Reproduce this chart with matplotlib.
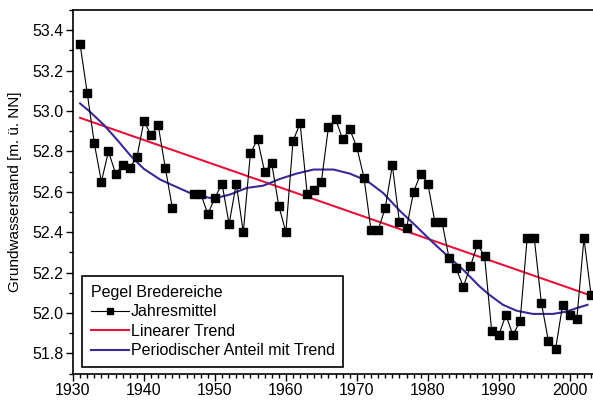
import numpy as np
import matplotlib.pyplot as plt
from matplotlib.ticker import MultipleLocator

plt.rcParams['font.family'] = ['Liberation Sans', 'DejaVu Sans']

# Jahresmittel (gap 1945-1946)
years = [1931, 1932, 1933, 1934, 1935, 1936, 1937, 1938, 1939, 1940, 1941, 1942, 1943, 1944,
         1947, 1948, 1949, 1950, 1951, 1952, 1953, 1954, 1955, 1956, 1957, 1958, 1959, 1960,
         1961, 1962, 1963, 1964, 1965, 1966, 1967, 1968, 1969, 1970, 1971, 1972, 1973, 1974,
         1975, 1976, 1977, 1978, 1979, 1980, 1981, 1982, 1983, 1984, 1985, 1986, 1987, 1988,
         1989, 1990, 1991, 1992, 1993, 1994, 1995, 1996, 1997, 1998, 1999, 2000, 2001, 2002, 2003]
levels = [53.33, 53.09, 52.84, 52.65, 52.80, 52.69, 52.73, 52.72, 52.77, 52.95, 52.88, 52.93, 52.72, 52.52,
          52.59, 52.59, 52.49, 52.57, 52.64, 52.44, 52.64, 52.40, 52.79, 52.86, 52.70, 52.74, 52.53, 52.40,
          52.85, 52.94, 52.59, 52.61, 52.65, 52.92, 52.96, 52.86, 52.91, 52.82, 52.67, 52.41, 52.41, 52.52,
          52.73, 52.45, 52.42, 52.60, 52.69, 52.64, 52.45, 52.45, 52.27, 52.22, 52.13, 52.23, 52.34, 52.28,
          51.91, 51.89, 51.99, 51.89, 51.96, 52.37, 52.37, 52.05, 51.86, 51.82, 52.04, 51.99, 51.97, 52.37, 52.09]

# Linearer Trend (end points)
trend_years = [1931, 2003]
trend_vals = [52.966, 52.086]

# Periodischer Anteil mit Trend
per_years = [1931, 1932.3, 1934.3, 1936.2, 1938.1, 1940, 1942.3, 1944.5, 1947, 1949.8, 1952.1,
             1954.5, 1956.8, 1959.2, 1961.5, 1963.9, 1966.7, 1969, 1971.4, 1973.7, 1976.1,
             1978.4, 1980.8, 1983, 1985, 1987.3, 1988.7, 1990.6, 1992.5, 1994.8, 1997.6,
             1999.5, 2000.9, 2002.5]
per_vals = [53.037, 52.999, 52.933, 52.858, 52.779, 52.713, 52.66, 52.625, 52.586, 52.566, 52.586,
            52.619, 52.630, 52.664, 52.690, 52.710, 52.71, 52.690, 52.655, 52.594, 52.504,
            52.428, 52.346, 52.275, 52.213, 52.131, 52.089, 52.04, 52.011, 51.995, 51.995,
            52.006, 52.023, 52.04]

fig = plt.figure(figsize=(5.93, 4.03), dpi=100)
ax = fig.add_axes([73 / 593, 1 - 373.5 / 403, 523 / 593, 363.5 / 403])

yr = np.array(years, dtype=float)
lv = np.array(levels)
# break the line at the missing years
yr_plot = np.insert(yr, 14, np.nan)
lv_plot = np.insert(lv, 14, np.nan)

ax.plot(yr_plot, lv_plot, color='black', lw=0.8, marker='s', markersize=5.5,
        label='Jahresmittel', clip_on=False, zorder=3)
ax.plot(trend_years, trend_vals, color='#e8123c', lw=1.5, label='Linearer Trend', zorder=2)
ax.plot(per_years, per_vals, color='#3b2a96', lw=1.5, label='Periodischer Anteil mit Trend', zorder=2)

ax.set_xlim(1930, 2003.7)
ax.set_ylim(51.7, 53.5)
ax.xaxis.set_major_locator(MultipleLocator(10))
ax.xaxis.set_minor_locator(MultipleLocator(1))
ax.yaxis.set_major_locator(MultipleLocator(0.2))
ax.yaxis.set_minor_locator(MultipleLocator(0.1))
ax.yaxis.set_major_formatter(plt.FormatStrFormatter('%.1f'))
ax.tick_params(which='major', direction='out', length=5, width=1, labelsize=11.5, pad=2)
ax.tick_params(which='minor', direction='out', length=3, width=1)
for s in ax.spines.values():
    s.set_linewidth(1.2)

ax.set_ylabel('Grundwasserstand [m. ü. NN]', fontsize=11, labelpad=7)

leg = ax.legend(title='Pegel Bredereiche', loc='lower left', bbox_to_anchor=(0.017, 0.018),
                borderaxespad=0, fontsize=11.5, title_fontsize=11.5, frameon=True, fancybox=False,
                edgecolor='black', borderpad=0.55, handlelength=2.4, handletextpad=0.1,
                labelspacing=0.28, markerscale=0.8, framealpha=1)
leg._legend_box.align = 'left'
leg.get_frame().set_linewidth(1.2)

fig.savefig('out.png', dpi=100)
